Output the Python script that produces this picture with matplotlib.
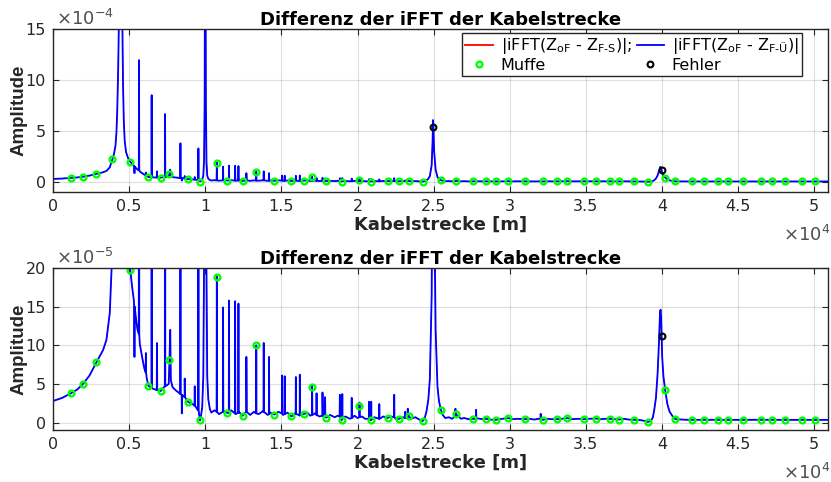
import numpy as np
import matplotlib.pyplot as plt
from matplotlib.ticker import FuncFormatter

plt.rcParams['font.family'] = ['DejaVu Sans']
plt.rcParams['axes.unicode_minus'] = False

# Kurve (Stuetzpunkte): Kabelstrecke in m, Amplitude in 1e-5
base_x = [0, 600, 1180, 1600, 1970, 2400, 2850, 3100, 3290, 3510, 3730, 3850, 3900,
          4000, 4100, 4165, 4220, 4280, 4320, 4360, 4400, 4440, 4480, 4520, 4560,
          4600, 4650, 4710, 4800, 4950, 5080, 5200, 5300, 5450, 5550, 5700, 5850,
          6000, 6150, 6270, 6400, 6550, 6700, 6900, 7080, 7250, 7450, 7600, 7650,
          7700, 7740, 7850, 8050, 8250, 8450, 8650, 8860, 9050, 9250, 9450, 9600,
          9660, 9720, 9800, 9870, 9920, 9960, 9990, 10010, 10040, 10080, 10130,
          10200, 10300, 10400, 10600, 10900, 11200, 11460, 11700, 12000, 12200,
          12450, 12700, 12950, 13200, 13500, 13800, 14100, 14300, 14540, 14800,
          15100, 15400, 15660, 15900, 16200, 16460, 16700, 16900, 17200, 17500,
          17700, 17960, 18200, 18500, 18700, 18950, 19200, 19500, 19800, 20000,
          20300, 20500, 20860, 21100, 21400, 21700, 21970, 22200, 22500, 22740,
          23000, 23200, 23360, 23500, 23800, 24050, 24270, 24400, 24530, 24650,
          24750, 24870, 24930, 24960, 24985, 25030, 25130, 25250, 25350, 25470,
          25600, 25760, 26000, 26200, 26460, 26800, 27000, 27300, 27570, 27900,
          28200, 28450, 28700, 29070, 29500, 29900, 30200, 30500, 30980, 31300,
          31600, 31900, 32160, 32500, 32700, 33070, 33400, 33780, 34100, 34500,
          34900, 35200, 35680, 36000, 36300, 36570, 36900, 37170, 37500, 37800,
          38180, 38500, 38800, 39070, 39260, 39400, 39490, 39600, 39710, 39800,
          39870, 39910, 39940, 39970, 40010, 40090, 40210, 40350, 40490, 40700,
          40880, 41500, 42000, 43000, 44000, 45000, 46000, 47000, 48000, 49000,
          50000, 51000]
base_y = [2.8, 3.2, 3.8, 4.3, 5.0, 6.1, 7.8, 8.7, 9.4, 10.7, 14.2, 20, 22,
          27, 35, 48, 70, 110, 150, 250, 450, 600, 430, 240, 150,
          95, 60, 40, 29, 22.5, 19.7, 17.5, 16, 13.5, 12, 10.2, 8.5,
          7, 5.8, 4.75, 4.6, 4.4, 4.3, 4.2, 4.1, 4.5, 4.8, 5.0, 8.1,
          12, 5.5, 4.6, 4.2, 3.9, 3.6, 3.3, 2.7, 2.5, 2.3, 1.8, 1.0,
          0.3, 0.9, 2, 6, 20, 80, 300, 300, 80, 20, 6,
          3, 1.8, 1.3, 1.6, 1.1, 1.5, 1.25, 1.6, 1.1, 1.4,
          0.9, 1.5, 1.0, 1.4, 1.1, 1.5, 1.0, 1.3, 1.05, 1.4,
          1.0, 1.3, 0.8, 1.2, 0.9, 1.1, 1.3, 0.9, 1.2, 0.8,
          1.0, 0.65, 1.0, 0.7, 0.9, 0.3, 0.8, 0.5, 0.9, 0.6,
          0.8, 0.5, 0.3, 0.7, 0.5, 0.8, 0.6, 0.8, 0.5, 0.5,
          0.7, 0.6, 0.9, 0.5, 0.7, 0.4, 0.2, 0.5, 1.45, 3,
          5.6, 16.4, 40, 60.6, 53.5, 30, 12, 4.7, 2.8, 1.7,
          1.0, 0.6, 0.7, 0.5, 1.1, 0.5, 0.6, 0.45, 0.5, 0.55,
          0.45, 0.5, 0.4, 0.36, 0.5, 0.58, 0.45, 0.5, 0.45, 0.5,
          0.4, 0.5, 0.36, 0.5, 0.45, 0.45, 0.5, 0.58, 0.45, 0.5,
          0.45, 0.5, 0.53, 0.45, 0.5, 0.49, 0.45, 0.4, 0.5, 0.4,
          0.36, 0.35, 0.25, 0.1, 0.2, 0.7, 1.66, 3.2, 6.4, 10.5,
          14.4, 14.6, 13.5, 11.2, 8.5, 6.0, 4.17, 2.4, 1.44, 0.8,
          0.45, 0.38, 0.36, 0.37, 0.36, 0.36, 0.37, 0.36, 0.36, 0.36,
          0.36, 0.36]

# schmale Spitzen: Lage [m], Spitzenwert, Fusspunkt (1e-5)
spike_x = [5350, 5650, 6100, 6480, 6830, 7360, 8370, 8460, 8650, 9310, 9550,
           10760, 11170, 11560, 11960, 12180, 12700, 13350, 13840, 14190, 15050,
           15220, 15950, 16210, 17020, 17310, 17700, 17870, 18840, 19000, 19620,
           20130, 20760, 20900, 21430, 22410, 23130, 23300, 26430, 27790, 32030]
spike_top = [8.5, 119.5, 9, 85, 10.3, 66.5, 37.8, 1.2, 5.7, 4.7, 32.8,
             18.9, 14.9, 15.8, 15.7, 15.4, 8.5, 10.0, 10.3, 8.5, 6.1,
             6.0, 5.9, 6.2, 4.9, 3.8, 3.9, 3.3, 3.6, 3.7, 3.2,
             2.6, 2.7, 2.7, 2.4, 3.6, 1.4, 1.8, 1.8, 1.66, 1.14]
spike_foot = [15, 11.5, 6.5, 4.5, 4.2, 4.7, 3.7, 3.6, 3.3, 2.2, 1.6,
              1.4, 1.4, 1.3, 1.2, 1.3, 1.4, 1.2, 1.4, 1.1, 1.2,
              1.1, 1.1, 1.0, 1.0, 1.0, 0.9, 0.8, 0.8, 0.5, 0.6,
              0.7, 0.5, 0.4, 0.5, 0.7, 0.6, 0.7, 0.8, 0.5, 0.45]

muffe_x = [1180, 1970, 2850, 3900, 5080, 6270, 7080, 7650, 8860, 9660,
           10760, 11460, 12450, 13360, 14540, 15660, 16460, 17030, 17960, 18950,
           20130, 20860, 21970, 22740, 23360, 24270, 25470, 26460, 27570, 28450,
           29070, 29900, 30980, 32160, 33070, 33780, 34900, 35680, 36570, 37170,
           38180, 39070, 40210, 40880, 41990, 42770, 43680, 44310, 45310, 46470,
           47210, 48100, 49220, 50020]
muffe_y = [3.8, 5.0, 7.8, 22, 19.7, 4.75, 4.1, 8.1, 2.7, 0.3,
           18.9, 1.25, 0.9, 10.0, 1.05, 0.8, 1.1, 4.6, 0.65, 0.3,
           2.15, 0.3, 0.6, 0.5, 0.9, 0.2, 1.7, 1.1, 0.5, 0.5,
           0.36, 0.58, 0.45, 0.36, 0.45, 0.58, 0.45, 0.53, 0.49, 0.4,
           0.36, 0.1, 4.17, 0.45, 0.36, 0.36, 0.36, 0.36, 0.36, 0.36,
           0.36, 0.36, 0.36, 0.36]

fehler_x = [24985, 39970]
fehler_y = [53.5, 11.2]

# Kurve zusammensetzen
xs = list(base_x)
ys = list(base_y)
for sx, st, sf in zip(spike_x, spike_top, spike_foot):
    xs += [sx - 15, sx, sx + 15]
    ys += [sf, st, sf]
order = np.argsort(xs, kind='stable')
kx = np.array(xs, dtype=float)[order]
ky = np.array(ys, dtype=float)[order] * 1e-5

dark = '#262626'
fig = plt.figure(figsize=(8.31, 4.82), dpi=100)
ax1 = fig.add_axes([53 / 831, 1 - 192 / 482, 775 / 831, 163 / 482])
ax2 = fig.add_axes([53 / 831, 1 - 430 / 482, 775 / 831, 162 / 482])


def draw(ax, scale, ylo, yhi, yticks, exp):
    ax.plot(kx, ky, color='red', lw=0.6)
    ax.plot(kx, ky, color='blue', lw=1.3)
    ax.plot(muffe_x, np.array(muffe_y) * 1e-5, 'o', ls='none', mfc='none',
            mec=(0, 1, 0), mew=1.7, ms=4.2)
    ax.plot(fehler_x, np.array(fehler_y) * 1e-5, 'o', ls='none', mfc='none',
            mec='black', mew=1.5, ms=4.2)
    ax.set_xlim(0, 50900)
    ax.set_ylim(ylo * scale, yhi * scale)
    ax.set_xticks(np.arange(0, 50001, 5000))
    ax.set_yticks(np.array(yticks) * scale)
    ax.xaxis.set_major_formatter(FuncFormatter(lambda v, p: f'{v / 1e4:g}'))
    ax.yaxis.set_major_formatter(FuncFormatter(lambda v, p: f'{v / scale:.0f}'))
    ax.grid(True, color=dark, alpha=0.15, lw=0.8)
    ax.set_axisbelow(True)
    ax.tick_params(direction='in', length=4, width=0.8, top=True, right=True,
                   labelsize=11.5, colors=dark, labelcolor=dark, pad=5)
    for s in ax.spines.values():
        s.set_color(dark)
        s.set_linewidth(1.0)
    ax.set_title('Differenz der iFFT der Kabelstrecke', fontweight='bold',
                 fontsize=13, pad=3)
    ax.set_xlabel('Kabelstrecke [m]', fontweight='bold', fontsize=13,
                  labelpad=1, color=dark)
    ax.set_ylabel('Amplitude', fontweight='bold', fontsize=13.5, labelpad=-1,
                  family='Liberation Sans', color=dark)
    ax.annotate(r'$\times$10$^{%d}$' % exp, xy=(0, 1), xycoords='axes fraction',
                xytext=(2, 0), textcoords='offset points', ha='left', va='bottom',
                fontsize=13, color='#505050')
    ax.annotate(r'$\times$10$^{4}$', xy=(1, 0), xycoords='axes fraction',
                xytext=(2, -24), textcoords='offset points', ha='right', va='top',
                fontsize=13, color='#505050')


draw(ax1, 1e-4, -1, 15, [0, 5, 10, 15], -4)
draw(ax2, 1e-5, -0.95, 20, [0, 5, 10, 15, 20], -5)

h_red, = ax1.plot([], [], color='red', lw=1.3)
h_blue, = ax1.plot([], [], color='blue', lw=1.3)
h_m, = ax1.plot([], [], 'o', mfc='none', mec=(0, 1, 0), mew=1.7, ms=4.2)
h_f, = ax1.plot([], [], 'o', mfc='none', mec='black', mew=1.5, ms=4.2)
labels = [r'|iFFT(Z$_{\mathrm{oF}}$ - Z$_{\mathrm{F\text{-}S}}$)|;', 'Muffe',
          r'|iFFT(Z$_{\mathrm{oF}}$ - Z$_{\mathrm{F\text{-}Ü}}$)|', 'Fehler']
leg = ax1.legend([h_red, h_m, h_blue, h_f], labels, ncol=2, loc='upper right',
                 bbox_to_anchor=(802 / 831, 1 - 33 / 482),
                 bbox_transform=fig.transFigure, borderaxespad=0, fancybox=False,
                 edgecolor=dark, framealpha=1, fontsize=11.5, handlelength=1.7,
                 columnspacing=0.3, handletextpad=0.5, borderpad=0.2,
                 labelspacing=0.1)
leg.get_frame().set_linewidth(1.0)

fig.savefig('out.png', dpi=100)
